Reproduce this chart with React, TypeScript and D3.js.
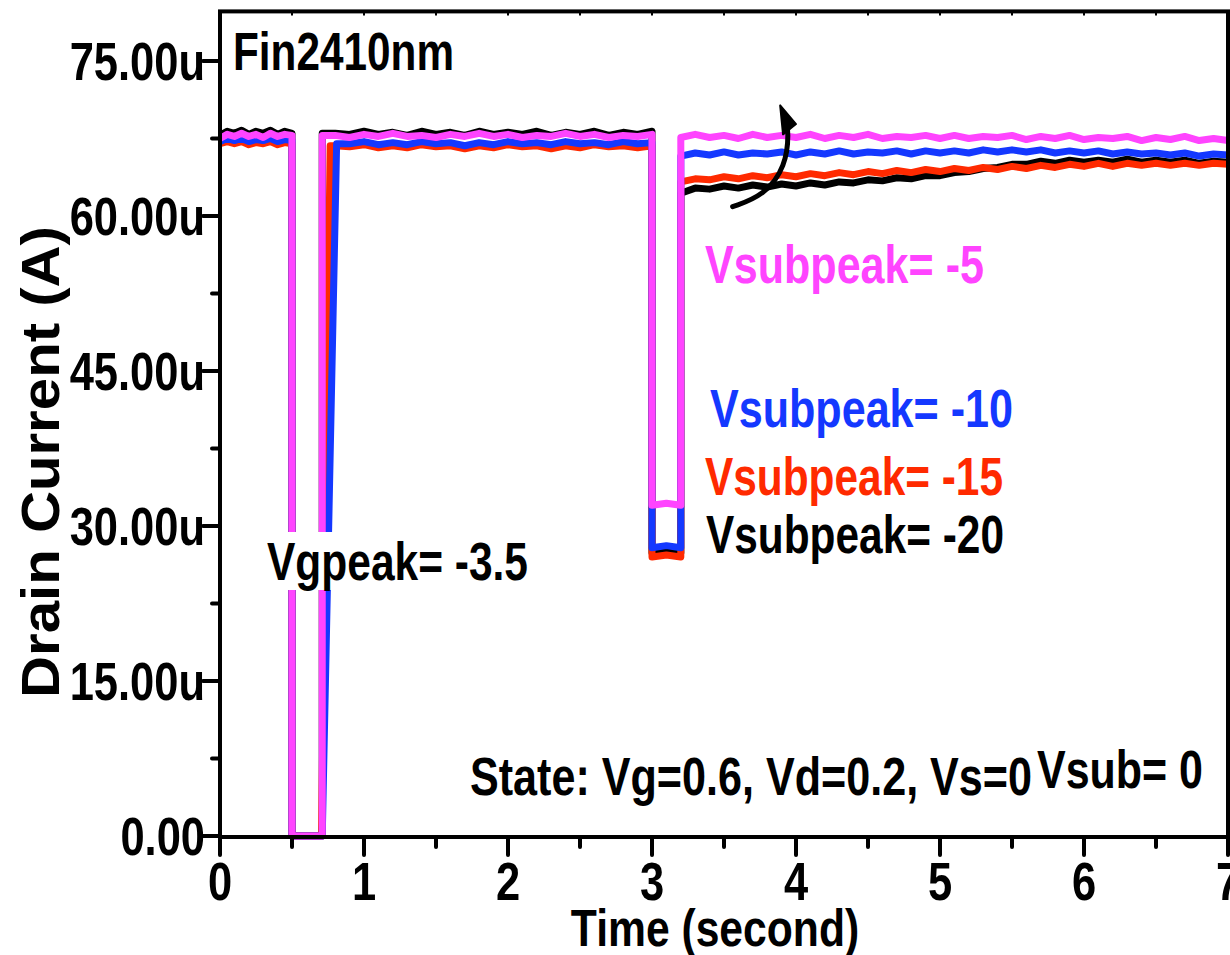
import React, { useEffect, useRef } from 'react';
import * as d3 from 'd3';

// sample times for the flat parts of each trace (seconds)
const timesA = d3.range(0, 0.5001, 0.05);
const timesB = d3.range(0.9, 3.0001, 0.1);
const timesC = d3.range(3.2, 7.0001, 0.1);

// drain current, in uA
const blackA = [67.8, 68.2, 68.0, 68.3, 67.9, 68.2, 68.0, 68.3, 67.9, 68.2, 68.0];
const blackB = [67.9, 68.2, 67.9, 68.1, 67.8, 68.2, 67.9, 68.1, 67.8, 68.2, 67.9, 68.1, 67.9, 68.2, 67.8, 68.1, 67.9, 68.2, 67.8, 68.1, 67.9, 68.2];
const blackC = [62.2, 62.7, 62.6, 62.9, 62.7, 63.0, 62.8, 63.1, 62.9, 63.2, 63.0, 63.3, 63.2, 63.5, 63.4, 63.7, 63.6, 63.9, 63.9, 64.2, 64.3, 64.6, 64.7, 65.0, 65.0, 65.3, 65.1, 65.4, 65.2, 65.4, 65.2, 65.5, 65.2, 65.4, 65.2, 65.4, 65.1, 65.3, 65.2];

const redA = [67.0, 67.2, 67.0, 67.2, 66.9, 67.1, 67.0, 67.2, 66.9, 67.1, 67.0];
const redB = [66.7, 66.9, 66.6, 66.8, 66.6, 66.9, 66.7, 66.8, 66.5, 66.8, 66.6, 66.9, 66.7, 66.8, 66.5, 66.8, 66.6, 66.9, 66.7, 66.8, 66.6, 66.8];
const redC = [63.3, 63.6, 63.5, 63.8, 63.6, 63.9, 63.7, 64.0, 63.8, 64.1, 63.9, 64.2, 64.0, 64.3, 64.1, 64.4, 64.2, 64.5, 64.3, 64.6, 64.4, 64.7, 64.5, 64.8, 64.6, 64.9, 64.7, 65.0, 64.8, 65.1, 64.8, 65.1, 64.9, 65.1, 64.9, 65.1, 64.9, 65.1, 65.0];

const blueA = [67.2, 67.5, 67.3, 67.5, 67.2, 67.4, 67.3, 67.5, 67.2, 67.4, 67.3];
const blueB = [67.0, 67.2, 66.9, 67.1, 66.9, 67.2, 67.0, 67.1, 66.8, 67.1, 66.9, 67.2, 67.0, 67.1, 66.9, 67.2, 67.0, 67.1, 66.9, 67.2, 67.0, 67.1];
const blueC = [65.8, 66.1, 65.9, 66.2, 65.9, 66.1, 66.0, 66.2, 65.9, 66.2, 66.0, 66.3, 66.0, 66.2, 66.1, 66.3, 66.0, 66.3, 66.1, 66.3, 66.1, 66.4, 66.2, 66.4, 66.2, 66.4, 66.1, 66.3, 66.1, 66.3, 66.0, 66.2, 66.0, 66.1, 65.9, 66.1, 65.8, 66.0, 65.9];

const pinkA = [67.5, 67.9, 67.7, 68.0, 67.7, 67.9, 67.6, 68.0, 67.7, 67.9, 67.8];
const pinkB = [67.6, 67.9, 67.7, 68.0, 67.7, 67.8, 67.6, 67.9, 67.7, 68.0, 67.7, 67.9, 67.6, 67.8, 67.7, 68.0, 67.7, 67.9, 67.6, 67.8, 67.7, 67.9];
const pinkC = [67.6, 67.9, 67.6, 67.8, 67.5, 67.9, 67.6, 67.8, 67.6, 67.9, 67.5, 67.8, 67.6, 67.9, 67.5, 67.7, 67.6, 67.8, 67.5, 67.8, 67.5, 67.7, 67.6, 67.8, 67.4, 67.7, 67.5, 67.8, 67.4, 67.6, 67.5, 67.7, 67.3, 67.6, 67.4, 67.7, 67.3, 67.5, 67.3];

// the two pulses: first one goes to 0, second one stops at these floors
const pulse1Start = 0.5;
const pulse2Start = 3.0;
const pulse2End = 3.2;

const series = [
  { name: 'Vsubpeak= -20', color: '#000000', a: blackA, b: blackB, c: blackC, rise: [0.71, 0.71], at08: 68.0, floor: 27.4 },
  { name: 'Vsubpeak= -15', color: '#ff2a00', a: redA, b: redB, c: redC, rise: [0.705, 0.765], at08: 66.8, floor: 27.0 },
  { name: 'Vsubpeak= -10', color: '#1438ff', a: blueA, b: blueB, c: blueC, rise: [0.71, 0.81], at08: null, floor: 27.9 },
  { name: 'Vsubpeak= -5', color: '#ff44ff', a: pinkA, b: pinkB, c: pinkC, rise: [0.71, 0.71], at08: 67.8, floor: 32.0 },
];

const xTicks = [0, 1, 2, 3, 4, 5, 6, 7];
const yTicks = [0, 15, 30, 45, 60, 75];
const yTickLabels = ['0.00', '15.00u', '30.00u', '45.00u', '60.00u', '75.00u'];

const FONT = '"Liberation Sans", Arial, sans-serif';

export default function App() {
  const ref = useRef<SVGSVGElement>(null);

  useEffect(() => {
    const svg = d3.select(ref.current);
    svg.selectAll('*').remove();

    const left = 220, right = 1228, bottom = 837;

    const x = d3.scaleLinear().domain([0, 7]).range([left, right]);
    const y = d3.scaleLinear().domain([0, 75]).range([836, 61]);
    const top = y(79.8);

    // squeeze bold Arial down to look like the narrow face of the original
    const narrow = (sel, k = 0.82) => {
      sel.each(function () {
        const w = this.getComputedTextLength();
        d3.select(this).attr('textLength', w * k).attr('lengthAdjust', 'spacingAndGlyphs');
      });
    };

    const g = svg.append('g');

    // traces
    const line = d3.line().x(d => x(d[0])).y(d => y(d[1]));
    series.forEach(s => {
      const pts = [];
      timesA.forEach((t, i) => pts.push([t, s.a[i]]));
      pts.push([pulse1Start, 0]);
      pts.push([s.rise[0], 0]);
      pts.push([s.rise[1], s.at08 ?? s.b[0]]);
      if (s.at08 !== null) pts.push([0.8, s.at08]);
      timesB.forEach((t, i) => pts.push([t, s.b[i]]));
      pts.push([pulse2Start, s.floor]);
      pts.push([3.1, s.floor + 0.2]);
      pts.push([pulse2End, s.floor]);
      timesC.forEach((t, i) => pts.push([t, s.c[i]]));

      g.append('path')
        .datum(pts)
        .attr('d', line)
        .attr('fill', 'none')
        .attr('stroke', s.color)
        .attr('stroke-width', 7)
        .attr('stroke-linejoin', 'round');
    });

    // frame
    g.append('rect')
      .attr('x', left).attr('y', top)
      .attr('width', right - left).attr('height', bottom - top)
      .attr('fill', 'none').attr('stroke', '#000').attr('stroke-width', 4);

    // x axis ticks
    const xAxis = g.append('g');
    d3.range(0, 7.01, 0.5).forEach(t => {
      const major = Math.abs(t - Math.round(t)) < 1e-6;
      xAxis.append('line')
        .attr('x1', x(t)).attr('x2', x(t))
        .attr('y1', bottom).attr('y2', bottom + (major ? 18 : 10))
        .attr('stroke', '#000').attr('stroke-width', 4).attr('stroke-linecap', 'round');
      xAxis.append('line')
        .attr('x1', x(t)).attr('x2', x(t))
        .attr('y1', top).attr('y2', top + 4)
        .attr('stroke', '#000').attr('stroke-width', 2);
    });
    xAxis.selectAll('text.tick').data(xTicks).enter().append('text')
      .attr('class', 'tick')
      .attr('x', d => x(d)).attr('y', 900)
      .attr('text-anchor', 'middle')
      .attr('font-family', FONT).attr('font-weight', 'bold').attr('font-size', 53)
      .text(d => d)
      .call(narrow);

    // y axis ticks
    const yAxis = g.append('g');
    d3.range(0, 75.01, 7.5).forEach(v => {
      const major = Math.abs(v / 15 - Math.round(v / 15)) < 1e-6;
      yAxis.append('line')
        .attr('x1', left).attr('x2', left - (major ? 17 : 8))
        .attr('y1', y(v)).attr('y2', y(v))
        .attr('stroke', '#000').attr('stroke-width', 4).attr('stroke-linecap', 'round');
    });
    yAxis.selectAll('text.tick').data(yTicks).enter().append('text')
      .attr('class', 'tick')
      .attr('x', 205).attr('y', d => y(d) + 19)
      .attr('text-anchor', 'end')
      .attr('font-family', FONT).attr('font-weight', 'bold').attr('font-size', 53)
      .text((d, i) => yTickLabels[i])
      .call(narrow);

    // axis titles
    g.append('text')
      .attr('x', 715).attr('y', 946)
      .attr('text-anchor', 'middle')
      .attr('font-family', FONT).attr('font-weight', 'bold').attr('font-size', 52)
      .text('Time (second)')
      .call(narrow);
    g.append('text')
      .attr('transform', 'translate(59,462) rotate(-90)')
      .attr('text-anchor', 'middle')
      .attr('font-family', FONT).attr('font-weight', 'bold').attr('font-size', 54)
      .attr('textLength', 472).attr('lengthAdjust', 'spacingAndGlyphs')
      .text('Drain Current (A)');

    // annotations
    const note = (txt, px, py, w, color = '#000') =>
      g.append('text')
        .attr('x', px).attr('y', py)
        .attr('font-family', FONT).attr('font-weight', 'bold').attr('font-size', 53)
        .attr('fill', color)
        .attr('textLength', w).attr('lengthAdjust', 'spacingAndGlyphs')
        .text(txt);

    note('Fin2410nm', 233, 70, 221);

    const labelPos = {
      'Vsubpeak= -5': [705, 283, 279],
      'Vsubpeak= -10': [710, 427, 303],
      'Vsubpeak= -15': [705, 495, 298],
      'Vsubpeak= -20': [706, 553, 298],
    };
    series.forEach(s => {
      const [px, py, w] = labelPos[s.name];
      note(s.name, px, py, w, s.color);
    });

    g.append('rect')
      .attr('x', 262).attr('y', 532).attr('width', 274).attr('height', 58)
      .attr('fill', '#fff');
    note('Vgpeak= -3.5', 267, 580, 261);

    note('State: Vg=0.6, Vd=0.2, Vs=0', 470, 795, 562);
    note('Vsub= 0', 1037, 788, 166);

    // curved arrow showing the recovery trend
    const arrow = d3.line().curve(d3.curveBasis).x(d => x(d[0])).y(d => y(d[1]));
    const arrowPts = [[3.56, 60.9], [3.78, 62.0], [3.93, 64.8], [3.95, 68.2], [3.93, 69.2]];
    g.append('path')
      .attr('d', arrow(arrowPts))
      .attr('fill', 'none').attr('stroke', '#000').attr('stroke-width', 5).attr('stroke-linecap', 'round');
    const head = [[3.89, 70.7], [3.91, 67.9], [4.0, 68.9]];
    g.append('path')
      .attr('d', 'M' + head.map(p => `${x(p[0])},${y(p[1])}`).join('L') + 'Z')
      .attr('fill', '#000').attr('stroke', '#000').attr('stroke-width', 2).attr('stroke-linejoin', 'round');
  }, []);

  return (
    <svg
      ref={ref}
      width={1230}
      height={955}
      style={{ position: 'absolute', left: 0, top: 0, background: '#fff' }}
    />
  );
}
